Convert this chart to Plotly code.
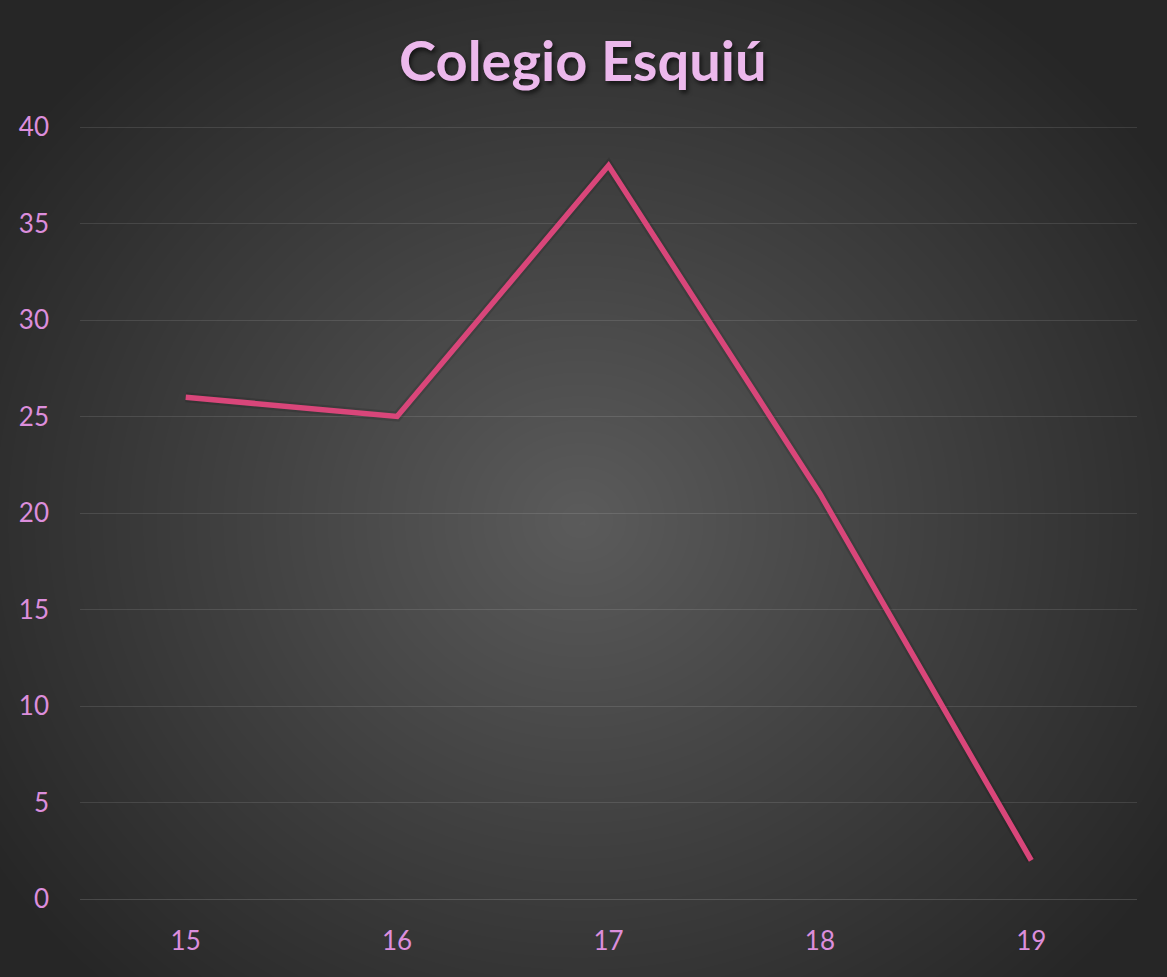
import numpy as np
import plotly.graph_objects as go

# ---- data ----
categories = ["15", "16", "17", "18", "19"]
values = [26, 25, 38, 21, 2]
title_text = "Colegio Esquiú"
y_ticks = [0, 5, 10, 15, 20, 25, 30, 35, 40]

W, H = 1167, 977

# ---- radial background (decorative) ----
nx, ny = 117, 98
gx = np.linspace(0, W, nx)
gy = np.linspace(0, H, ny)
X, Y = np.meshgrid(gx, gy)
cx, cy = 580, H - 520
R = np.sqrt(((X - cx) / 700) ** 2 + ((Y - cy) / 640) ** 2)
Z = np.clip(R, 0, 1)

fig = go.Figure()
fig.add_trace(go.Heatmap(
    x=gx, y=gy, z=Z, xaxis="x", yaxis="y", zsmooth="best",
    colorscale=[[0, "#5b5b5b"], [0.5, "#404040"], [1, "#262626"]],
    showscale=False, hoverinfo="skip", zmin=0, zmax=1,
))

# soft shadow under the line
fig.add_trace(go.Scatter(
    x=categories, y=values, xaxis="x2", yaxis="y2", mode="lines",
    line=dict(color="rgba(0,0,0,0.12)", width=10), hoverinfo="skip",
    showlegend=False,
))
fig.add_trace(go.Scatter(
    x=categories, y=values, xaxis="x2", yaxis="y2", mode="lines",
    line=dict(color="#D9467A", width=5.5), showlegend=False,
))

# y range slightly above 40 so the top gridline is drawn
ymax = 40.3
px_per_unit = (899 - 127) / 40
top_px = 127 - (ymax - 40) * px_per_unit
left, right = 80 / W, 1137 / W
bottom, top = (H - 899) / H, (H - top_px) / H

tick_font = dict(family="Lato, Calibri, sans-serif", size=26, color="#DC8EDC")

fig.update_layout(
    width=W, height=H,
    margin=dict(l=0, r=0, t=0, b=0, pad=0, autoexpand=False),
    paper_bgcolor="#262626",
    plot_bgcolor="rgba(0,0,0,0)",
    xaxis=dict(domain=[0, 1], range=[0, W], visible=False, fixedrange=True,
               automargin=False),
    yaxis=dict(domain=[0, 1], range=[0, H], visible=False, fixedrange=True,
               automargin=False),
    xaxis2=dict(
        domain=[left, right], anchor="y2", type="category",
        range=[-0.5, 4.5], showgrid=False, zeroline=False,
        showline=False, ticks="", ticklabelstandoff=24, automargin=False,
        tickfont=tick_font,
    ),
    yaxis2=dict(
        domain=[bottom, top], anchor="x2", range=[0, ymax],
        tickvals=y_ticks, showgrid=True,
        gridcolor="rgba(255,255,255,0.11)", gridwidth=1,
        zeroline=True, zerolinecolor="rgba(255,255,255,0.15)", zerolinewidth=1,
        showline=False, ticks="", ticklabelstandoff=30, automargin=False,
        tickfont=tick_font,
    ),
    showlegend=False,
    annotations=[dict(
        text="<b>" + title_text + "</b>", xref="paper", yref="paper",
        x=583 / W, y=(H - 60) / H, xanchor="center", yanchor="middle",
        showarrow=False,
        font=dict(family="Lato, Calibri, sans-serif", size=56, color="#ECB8EC",
                  shadow="2px 3px 4px rgba(0,0,0,0.6)"),
    )],
)

fig.write_html(
    "out.html",
    config={"displayModeBar": False},
    post_script="document.body.style.margin='0';document.body.style.overflow='hidden';",
)
